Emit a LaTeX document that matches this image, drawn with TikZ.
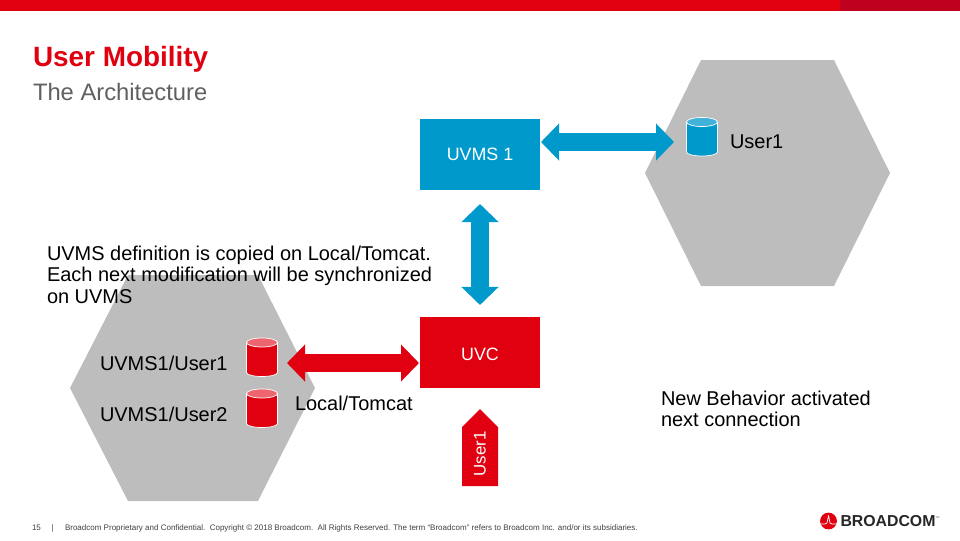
\documentclass[tikz,border=0pt]{standalone}
\usepackage{fontspec}
\setmainfont{Liberation Sans}
\usetikzlibrary{arrows.meta,calc}
\definecolor{bcred}{HTML}{E1000F}
\definecolor{bcdark}{HTML}{BE001E}
\definecolor{bcblue}{HTML}{0099CC}
\definecolor{bcgrey}{HTML}{BDBDBD}
\definecolor{bcsub}{HTML}{606060}
\def\dbcan(#1)(#2)(#3){
	\draw[white, line width=0.5pt, fill=#2] ($(#1)+(-15.5,-15)$) -- ++(0,30) arc[start angle=180, end angle=0, x radius=15.5, y radius=4] -- ++(0,-30) -- cycle;
	\draw[white, line width=0.5pt, fill=#3] ($(#1)+(0,-15)$) ellipse [x radius=15.5, y radius=4.5];
}
\tikzset{
	box/.style={minimum width=3cm, minimum height=1.775cm, inner sep=0pt, outer sep=0pt, text=white, font=\fontsize{12.7pt}{14pt}\selectfont},
	db/.style={minimum width=0.78cm, minimum height=0.95cm, inner sep=0pt, outer sep=0pt},
	bigarrow/.style={line width=0.45cm, {Triangle[length=0.45cm,width=0.9cm]}-{Triangle[length=0.45cm,width=0.9cm]}},
	label/.style={anchor=base west, inner sep=0pt, outer sep=0pt, text=black, font=\fontsize{14.2pt}{15.2pt}\selectfont},
	small/.style={anchor=base west, inner sep=0pt, outer sep=0pt, text=black!75, font=\fontsize{5.7pt}{7pt}\selectfont}
}
\begin{document}
\begin{tikzpicture}[x=0.025cm, y=-0.025cm]
	%%%%% START %%%%%
	\useasboundingbox (0, 0) rectangle (960, 540);

	\fill[bcred] (0, 0) rectangle (840, 11);
	\fill[bcdark] (840, 0) rectangle (960, 11);

	\node[label, text=bcred, font=\fontsize{19.85pt}{22pt}\selectfont\bfseries] (title) at (33, 66) {User Mobility};
	\node[label, text=bcsub, font=\fontsize{16.9pt}{19pt}\selectfont] (subtitle) at (33, 100) {The Architecture};

	\fill[bcgrey] (645, 173) -- (701, 60) -- (834, 60) -- (890, 173) -- (834, 286) -- (701, 286) -- cycle;
	\fill[bcgrey] (70, 388) -- (128, 275) -- (258, 275) -- (315, 388) -- (258, 501) -- (128, 501) -- cycle;

	\node[box, fill=bcblue] (uvmsone) at (480, 154.5) {UVMS 1};
	\node[box, fill=bcred, text height=11.5pt] (uvc) at (480, 352.5) {UVC};

	\node[db] (dbone) at (702, 137) {};
	\node[db] (dbtwo) at (262, 357.5) {};
	\node[db] (dbthree) at (262, 408.5) {};
	\dbcan(dbone)(bcblue)(bcblue!75)
	\dbcan(dbtwo)(bcred)(bcred!60)
	\dbcan(dbthree)(bcred)(bcred!60)

	\coordinate (uvmsport) at (541, 142);
	\coordinate (dbport) at (674, 142);
	\coordinate (uvcport) at (419, 363);
	\coordinate (localport) at (287, 363);

	\draw[bigarrow, bcblue] (uvmsport) -- (dbport);
	\draw[bigarrow, bcblue, shorten <=0.35cm, shorten >=0.3cm] (uvmsone.south) -- (uvc.north);
	\draw[bigarrow, bcred] (localport) -- (uvcport);

	\node[label] (userone) at (730, 148) {User1};
	\node[label] (uvmsuserone) at (100, 370) {UVMS1/User1};
	\node[label] (uvmsusertwo) at (100, 421) {UVMS1/User2};
	\node[label] (local) at (295, 410) {Local/Tomcat};

	\node[label, anchor=north west, align=left] (copied) at (47, 246) {UVMS definition is copied on Local/Tomcat.\\Each next modification will be synchronized\\on UVMS};
	\node[label, anchor=north west, align=left] (behavior) at (661, 391) {New Behavior activated\\next connection};

	\fill[bcred] (462, 486) -- (462, 427) -- (480, 409) -- (498, 427) -- (498, 486) -- cycle;
	\node[rotate=90, text=white, inner sep=0pt, font=\fontsize{12pt}{14pt}\selectfont] (usertag) at (480, 454) {User1};

	\node[small] (pagenum) at (32, 530) {15};
	\node[small] (pipe) at (51.5, 530) {|};
	\node[small] (legal) at (65, 530) {Broadcom Proprietary and Confidential.\ \ Copyright © 2018 Broadcom.\ \ All Rights Reserved. The term “Broadcom” refers to Broadcom Inc. and/or its subsidiaries.};

	\node[circle, fill=bcred, inner sep=0pt, minimum size=0.42cm] (logo) at (828.5, 521) {};
	\draw[white, line width=0.5pt, line join=round] (820.5, 524) -- (825, 524) -- (827, 523) -- (828.5, 515.5) -- (830, 523) -- (832, 524) -- (836.5, 524);
	\node[small, text=black!85, font=\fontsize{11.26pt}{12pt}\selectfont\bfseries] (brand) at (840.5, 526) {BROADCOM};
	\node[small, text=black!60, font=\fontsize{2pt}{3pt}\selectfont] (tm) at (935.5, 518) {TM};
	%%%%% END %%%%%
\end{tikzpicture}
\end{document}
